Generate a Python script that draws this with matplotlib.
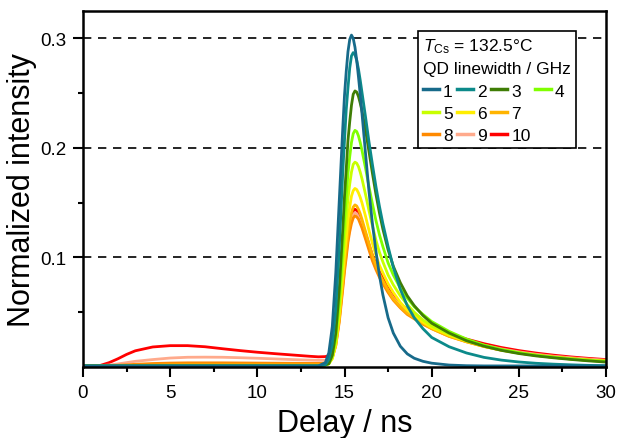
import numpy as np
import matplotlib
matplotlib.use("Agg")
import matplotlib.pyplot as plt
from matplotlib.lines import Line2D
from matplotlib.ticker import MultipleLocator

plt.rcParams['font.family'] = ['Liberation Sans', 'DejaVu Sans']
plt.rcParams['mathtext.fontset'] = 'custom'
plt.rcParams['mathtext.rm'] = 'Liberation Sans'
plt.rcParams['mathtext.it'] = 'Liberation Sans:italic'

# delay axis (ns), shared by all traces
delay = [0, 0.5, 1, 1.5, 2, 2.5, 3, 4, 5, 6, 7, 8, 9, 10, 11, 12, 13, 13.5,
         13.9, 14.1, 14.3, 14.5, 14.7, 14.9, 15.0, 15.1, 15.2, 15.3, 15.4, 15.5,
         15.6, 15.7, 15.8, 15.9, 16.0, 16.2, 16.4, 16.6, 16.8, 17.0, 17.2, 17.5,
         17.8, 18.2, 18.6, 19.0, 19.5, 20, 21, 22, 23, 24, 25, 26, 27, 28, 29, 30]

# normalized intensity for each QD linewidth (GHz)
qd_1 = [0.001, 0.001, 0.001, 0.001, 0.001, 0.001, 0.001, 0.001, 0.001, 0.001,
        0.001, 0.001, 0.001, 0.001, 0.001, 0.001, 0.001, 0.001,
        0.004, 0.013, 0.037, 0.086, 0.152, 0.218, 0.248, 0.270, 0.288, 0.299,
        0.303, 0.300, 0.292, 0.280, 0.265, 0.249, 0.232, 0.196, 0.161, 0.131,
        0.106, 0.084, 0.066, 0.045, 0.031, 0.019, 0.012, 0.008, 0.0052, 0.0035,
        0.0018, 0.0012, 0.001, 0.001, 0.001, 0.001, 0.001, 0.001, 0.001, 0.001]
qd_2 = [0.001, 0.001, 0.001, 0.001, 0.001, 0.001, 0.001, 0.001, 0.001, 0.001,
        0.001, 0.001, 0.001, 0.001, 0.001, 0.001, 0.001, 0.001,
        0.002, 0.007, 0.021, 0.053, 0.109, 0.178, 0.207, 0.235, 0.255, 0.273,
        0.284, 0.287, 0.285, 0.280, 0.272, 0.262, 0.251, 0.229, 0.206, 0.185,
        0.165, 0.147, 0.131, 0.110, 0.091, 0.071, 0.056, 0.045, 0.035, 0.027,
        0.0185, 0.0128, 0.0088, 0.0063, 0.0046, 0.0034, 0.0026, 0.0020, 0.0015, 0.0012]
qd_3 = [0.001, 0.001, 0.001, 0.001, 0.001, 0.001, 0.001, 0.001, 0.001, 0.001,
        0.001, 0.001, 0.001, 0.001, 0.001, 0.001, 0.001, 0.001,
        0.002, 0.003, 0.011, 0.031, 0.071, 0.126, 0.156, 0.181, 0.207, 0.224,
        0.239, 0.249, 0.252, 0.251, 0.247, 0.241, 0.234, 0.217, 0.197, 0.177,
        0.158, 0.141, 0.126, 0.107, 0.092, 0.077, 0.065, 0.056, 0.047, 0.040,
        0.031, 0.024, 0.019, 0.0152, 0.0123, 0.0101, 0.0084, 0.0069, 0.0056, 0.0045]
qd_4 = [0.001, 0.001, 0.001, 0.001, 0.001, 0.001, 0.001, 0.001, 0.001, 0.001,
        0.001, 0.001, 0.001, 0.001, 0.001, 0.001, 0.001, 0.001,
        0.002, 0.003, 0.010, 0.027, 0.061, 0.108, 0.134, 0.156, 0.177, 0.192,
        0.205, 0.213, 0.216, 0.215, 0.211, 0.205, 0.198, 0.182, 0.165, 0.149,
        0.134, 0.121, 0.110, 0.095, 0.084, 0.072, 0.063, 0.055, 0.048, 0.0415,
        0.0325, 0.0255, 0.020, 0.016, 0.0130, 0.0107, 0.0088, 0.0073, 0.0060, 0.0050]
qd_5 = [0.001, 0.001, 0.001, 0.001, 0.001, 0.001, 0.001, 0.001, 0.001, 0.001,
        0.001, 0.001, 0.001, 0.001, 0.001, 0.001, 0.001, 0.001,
        0.002, 0.003, 0.009, 0.023, 0.053, 0.095, 0.117, 0.136, 0.154, 0.167,
        0.178, 0.185, 0.187, 0.186, 0.183, 0.178, 0.172, 0.158, 0.143, 0.129,
        0.116, 0.105, 0.096, 0.084, 0.075, 0.065, 0.057, 0.050, 0.043, 0.0375,
        0.030, 0.024, 0.0195, 0.0158, 0.0130, 0.0107, 0.0089, 0.0074, 0.0062, 0.0052]
qd_6 = [0.001, 0.001, 0.001, 0.001, 0.001, 0.001, 0.001, 0.001, 0.001, 0.001,
        0.001, 0.001, 0.001, 0.001, 0.001, 0.001, 0.001, 0.001,
        0.002, 0.003, 0.0075, 0.021, 0.047, 0.083, 0.102, 0.118, 0.135, 0.146,
        0.156, 0.161, 0.163, 0.162, 0.159, 0.155, 0.150, 0.138, 0.125, 0.113,
        0.102, 0.093, 0.086, 0.076, 0.068, 0.059, 0.052, 0.047, 0.041, 0.036,
        0.029, 0.0235, 0.019, 0.0155, 0.0128, 0.0106, 0.0088, 0.0074, 0.0062, 0.0053]
qd_7 = [0.001, 0.001, 0.001, 0.001, 0.0011, 0.0012, 0.0013, 0.0016, 0.0019, 0.002,
        0.002, 0.002, 0.002, 0.002, 0.002, 0.002, 0.002, 0.002,
        0.0025, 0.0035, 0.008, 0.020, 0.043, 0.076, 0.093, 0.108, 0.122, 0.133,
        0.141, 0.146, 0.148, 0.147, 0.144, 0.140, 0.135, 0.124, 0.113, 0.102,
        0.093, 0.085, 0.079, 0.070, 0.062, 0.055, 0.049, 0.045, 0.040, 0.035,
        0.028, 0.023, 0.0187, 0.0153, 0.0127, 0.0106, 0.0089, 0.0075, 0.0063, 0.0054]
qd_8 = [0.001, 0.001, 0.001, 0.0012, 0.0016, 0.002, 0.0025, 0.0032, 0.0036, 0.0038,
        0.0038, 0.0038, 0.0037, 0.0036, 0.0035, 0.0034, 0.0033, 0.0033,
        0.0035, 0.0047, 0.0087, 0.0195, 0.041, 0.071, 0.087, 0.100, 0.114, 0.1235,
        0.131, 0.136, 0.138, 0.137, 0.135, 0.131, 0.127, 0.117, 0.107, 0.097,
        0.089, 0.082, 0.076, 0.068, 0.061, 0.054, 0.048, 0.044, 0.039, 0.035,
        0.028, 0.023, 0.0188, 0.0155, 0.0129, 0.0108, 0.0091, 0.0077, 0.0065, 0.0056]
qd_9 = [0.001, 0.001, 0.0012, 0.0018, 0.0028, 0.004, 0.0052, 0.0068, 0.0082, 0.0089,
        0.009, 0.0089, 0.0085, 0.008, 0.0074, 0.0068, 0.0063, 0.0061,
        0.0062, 0.0074, 0.0114, 0.022, 0.044, 0.0735, 0.090, 0.103, 0.117, 0.126,
        0.134, 0.139, 0.141, 0.140, 0.137, 0.133, 0.129, 0.119, 0.109, 0.099,
        0.091, 0.084, 0.078, 0.070, 0.063, 0.056, 0.050, 0.0455, 0.0405, 0.036,
        0.0293, 0.0242, 0.0199, 0.0165, 0.0138, 0.0116, 0.0098, 0.0084, 0.0072, 0.0062]
qd_10 = [0.001, 0.001, 0.0015, 0.004, 0.0075, 0.0115, 0.0148, 0.0183, 0.0195, 0.0195,
         0.0185, 0.0167, 0.015, 0.0135, 0.0122, 0.011, 0.0098, 0.0093,
         0.0095, 0.0104, 0.0144, 0.025, 0.047, 0.0765, 0.093, 0.106, 0.120, 0.129,
         0.137, 0.142, 0.144, 0.143, 0.140, 0.136, 0.132, 0.122, 0.112, 0.102,
         0.094, 0.087, 0.081, 0.073, 0.066, 0.058, 0.052, 0.047, 0.042, 0.0375,
         0.0307, 0.0255, 0.0213, 0.0178, 0.015, 0.0127, 0.0108, 0.0092, 0.0079, 0.0068]

labels = ['1', '2', '3', '4', '5', '6', '7', '8', '9', '10']
colors = ['#176a8a', '#0c8a8a', '#3f7d05', '#80ff00', '#c8ff00',
          '#ffee00', '#ffb400', '#ff8a00', '#ffaa8c', '#ff0000']
traces = [qd_1, qd_2, qd_3, qd_4, qd_5, qd_6, qd_7, qd_8, qd_9, qd_10]

fig = plt.figure(figsize=(6.18, 4.39), dpi=100)
ax = fig.add_axes([0.1343, 0.1617, 0.8463, 0.811])

# dashed reference lines at the major y ticks
for yv in [0.1, 0.2, 0.3]:
    ax.axhline(yv, color='black', lw=1.2, ls=(0, (5, 4)), zorder=0)

handles = {}
for lab, col, y in reversed(list(zip(labels, colors, traces))):
    h, = ax.plot(delay, y, color=col, lw=2.0, label=lab,
                 solid_joinstyle='round')
    handles[lab] = h

ax.set_xlim(0, 30)
ax.set_ylim(0, 0.325)
ax.xaxis.set_major_locator(MultipleLocator(5))
ax.xaxis.set_minor_locator(MultipleLocator(2.5))
ax.set_yticks([0.1, 0.2, 0.3])
ax.set_yticklabels(['0.1', '0.2', '0.3'])
ax.set_yticks([0.05, 0.15, 0.25], minor=True)
ax.tick_params(which='major', direction='out', length=7, width=1.5,
               labelsize=13.5, pad=5)
ax.tick_params(which='minor', direction='out', length=3.5, width=1.5)
for s in ax.spines.values():
    s.set_linewidth(1.8)

ax.set_xlabel('Delay / ns', fontsize=22, labelpad=5)
ax.set_ylabel('Normalized intensity', fontsize=22, labelpad=2)

# legend filled column-wise so rows read 1-4 / 5-7 / 8-10
blank = Line2D([], [], color='none')
order = ['1', '5', '8', '2', '6', '9', '3', '7', '10', '4']
leg_h = [handles[k] for k in order] + [blank, blank]
leg_l = order + ['', '']
leg = ax.legend(leg_h, leg_l, ncol=4, loc='upper right',
                bbox_to_anchor=(0.943, 0.944), fontsize=12.5,
                title='$T_{\\mathrm{Cs}}$ = 132.5°C\nQD linewidth / GHz',
                title_fontsize=12.5, alignment='left', frameon=True,
                fancybox=False, framealpha=1, edgecolor='black',
                handlelength=0.9, handletextpad=0.25, columnspacing=0.25,
                labelspacing=0.4, borderpad=0.3, borderaxespad=0)
leg.get_frame().set_linewidth(1.2)
leg.get_title().set_linespacing(1.55)
for h in leg.legend_handles:
    h.set_linewidth(2.5)

fig.savefig('out.png', dpi=100)
